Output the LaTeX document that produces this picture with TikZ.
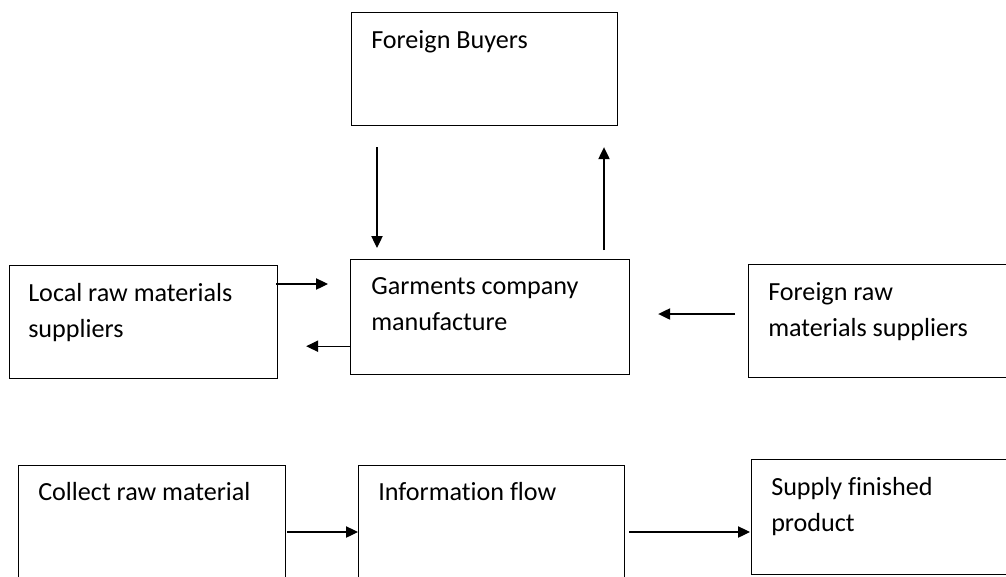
\documentclass[tikz,border=0pt]{standalone}
\usepackage{fontspec}
\setmainfont{Carlito}[Ligatures=NoCommon]
\usetikzlibrary{calc,arrows.meta}

\begin{document}
\begin{tikzpicture}[x=0.75pt,y=0.75pt,yscale=-1,xscale=1,
    box/.style={draw, line width=0.9pt, anchor=north west, inner sep=0pt},
    txt/.style={anchor=north west, inner sep=0.75pt, align=left, font=\fontsize{19.6}{27}\selectfont},
    flow/.style={line width=0.9pt, -{Triangle[length=9pt,width=8.5pt]}}]
    \useasboundingbox[fill=white] (0,0) rectangle (1006,576);

    %Shape: Rectangle [buyers]
    \node[box, minimum width=199.5pt, minimum height=84.75pt] (buyers) at (351,12) {};
    %Shape: Rectangle [local]
    \node[box, minimum width=201pt, minimum height=84.75pt] (local) at (9,265) {};
    %Shape: Rectangle [garments]
    \node[box, minimum width=209.25pt, minimum height=86.25pt] (garments) at (350,259) {};
    %Shape: Rectangle [fraw]
    \node[box, minimum width=215pt, minimum height=84.75pt] (fraw) at (748,264) {};
    %Shape: Rectangle [collect]
    \node[box, minimum width=200.25pt, minimum height=97.5pt] (collect) at (18,465) {};
    %Shape: Rectangle [info]
    \node[box, minimum width=199.5pt, minimum height=97.5pt] (info) at (358,465) {};
    %Shape: Rectangle [supply]
    \node[box, minimum width=215pt, minimum height=86.25pt] (supply) at (751,459) {};

    % Text Node
    \node[txt] (buyerstxt) at ($(buyers.north west)+(19,17)$) {Foreign Buyers};
    % Text Node
    \node[txt] (localtxt) at ($(local.north west)+(18,17)$) {Local raw materials\\suppliers};
    % Text Node
    \node[txt] (garmentstxt) at ($(garments.north west)+(20,17)$) {Garments company\\manufacture};
    % Text Node
    \node[txt] (frawtxt) at ($(fraw.north west)+(19,17)$) {Foreign raw\\materials suppliers};
    % Text Node
    \node[txt] (collecttxt) at ($(collect.north west)+(19,16)$) {Collect raw material};
    % Text Node
    \node[txt] (infotxt) at ($(info.north west)+(19,16)$) {Information flow};
    % Text Node
    \node[txt] (supplytxt) at ($(supply.north west)+(19,17)$) {Supply finished\\product};

    %Straight Lines
    \draw[flow] ($(buyers.south west)+(26,21)$) -- ($(garments.north west)+(27,-11)$);
    \draw[flow] ($(garments.north west)+(254,-9)$) -- ($(buyers.south west)+(253,21)$);
    \draw[flow] ($(local.north east)+(-2,19)$) -- ($(garments.north west)+(-22,25)$);
    \draw[flow] ($(garments.south west)+(0,-29)$) -- ($(local.south east)+(28,-33)$);
    \draw[flow] ($(fraw.north west)+(-13,50)$) -- ($(garments.north east)+(28,55)$);
    \draw[flow] ($(collect.north east)+(1,67)$) -- ($(info.north west)+(0,67)$);
    \draw[flow] ($(info.north east)+(4,67)$) -- ($(supply.north west)+(-1,73)$);
\end{tikzpicture}
\end{document}
